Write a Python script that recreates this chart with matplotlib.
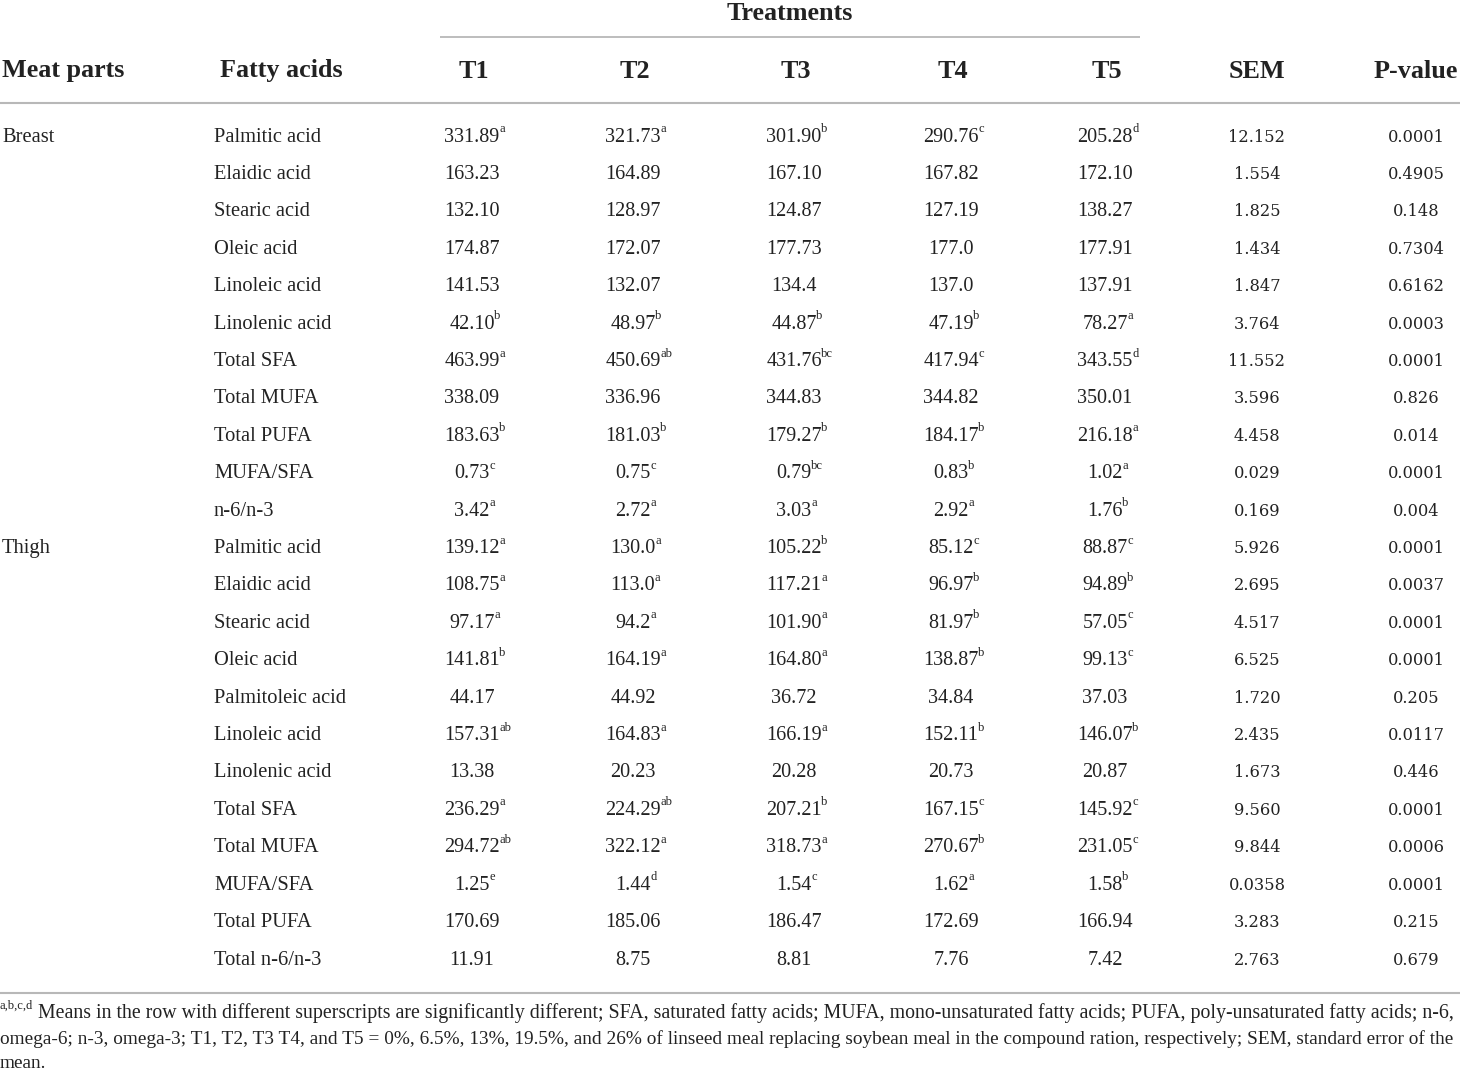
import re
import matplotlib
matplotlib.use("Agg")
import matplotlib.pyplot as plt

# table content
treatments = ["T1", "T2", "T3", "T4", "T5"]
meat_parts = ["Breast", "Thigh"]

breast_acids = ["Palmitic acid", "Elaidic acid", "Stearic acid", "Oleic acid",
                "Linoleic acid", "Linolenic acid", "Total SFA", "Total MUFA",
                "Total PUFA", "MUFA/SFA", "n-6/n-3"]
breast_t1 = ["331.89a", "163.23", "132.10", "174.87", "141.53", "42.10b",
             "463.99a", "338.09", "183.63b", "0.73c", "3.42a"]
breast_t2 = ["321.73a", "164.89", "128.97", "172.07", "132.07", "48.97b",
             "450.69ab", "336.96", "181.03b", "0.75c", "2.72a"]
breast_t3 = ["301.90b", "167.10", "124.87", "177.73", "134.4", "44.87b",
             "431.76bc", "344.83", "179.27b", "0.79bc", "3.03a"]
breast_t4 = ["290.76c", "167.82", "127.19", "177.0", "137.0", "47.19b",
             "417.94c", "344.82", "184.17b", "0.83b", "2.92a"]
breast_t5 = ["205.28d", "172.10", "138.27", "177.91", "137.91", "78.27a",
             "343.55d", "350.01", "216.18a", "1.02a", "1.76b"]
breast_sem = ["12.152", "1.554", "1.825", "1.434", "1.847", "3.764",
              "11.552", "3.596", "4.458", "0.029", "0.169"]
breast_p = ["0.0001", "0.4905", "0.148", "0.7304", "0.6162", "0.0003",
            "0.0001", "0.826", "0.014", "0.0001", "0.004"]

thigh_acids = ["Palmitic acid", "Elaidic acid", "Stearic acid", "Oleic acid",
               "Palmitoleic acid", "Linoleic acid", "Linolenic acid", "Total SFA",
               "Total MUFA", "MUFA/SFA", "Total PUFA", "Total n-6/n-3"]
thigh_t1 = ["139.12a", "108.75a", "97.17a", "141.81b", "44.17", "157.31ab",
            "13.38", "236.29a", "294.72ab", "1.25e", "170.69", "11.91"]
thigh_t2 = ["130.0a", "113.0a", "94.2a", "164.19a", "44.92", "164.83a",
            "20.23", "224.29ab", "322.12a", "1.44d", "185.06", "8.75"]
thigh_t3 = ["105.22b", "117.21a", "101.90a", "164.80a", "36.72", "166.19a",
            "20.28", "207.21b", "318.73a", "1.54c", "186.47", "8.81"]
thigh_t4 = ["85.12c", "96.97b", "81.97b", "138.87b", "34.84", "152.11b",
            "20.73", "167.15c", "270.67b", "1.62a", "172.69", "7.76"]
thigh_t5 = ["88.87c", "94.89b", "57.05c", "99.13c", "37.03", "146.07b",
            "20.87", "145.92c", "231.05c", "1.58b", "166.94", "7.42"]
thigh_sem = ["5.926", "2.695", "4.517", "6.525", "1.720", "2.435",
             "1.673", "9.560", "9.844", "0.0358", "3.283", "2.763"]
thigh_p = ["0.0001", "0.0037", "0.0001", "0.0001", "0.205", "0.0117",
           "0.446", "0.0001", "0.0006", "0.0001", "0.215", "0.679"]

footnote_lines = [
    "Means in the row with different superscripts are significantly different; SFA, saturated fatty acids; "
    "MUFA, mono-unsaturated fatty acids; PUFA, poly-unsaturated fatty acids; n-6,",
    "omega-6; n-3, omega-3; T1, T2, T3 T4, and T5 = 0%, 6.5%, 13%, 19.5%, and 26% of linseed meal "
    "replacing soybean meal in the compound ration, respectively; SEM, standard error of the",
    "mean.",
]

plt.rcParams["font.family"] = ["Liberation Serif", "DejaVu Serif"]

W, H = 1460, 1073
fig = plt.figure(figsize=(W / 100, H / 100), dpi=100)
ax = fig.add_axes([0, 0, 1, 1])
ax.set_xlim(0, W)
ax.set_ylim(H, 0)
ax.axis("off")

TXT = "#222222"
RULE = "#b8b8b8"
BODY = 14.8
NUM = 14.5
HEAD = 18.8
SIDE_FONT = ["DejaVu Serif"]

col_x = [472, 633, 794, 951, 1105]
sem_x, p_x = 1257, 1416
part_x, acid_x = 2, 214

# header
ax.text(790, 13, "Treatments", fontsize=HEAD, fontweight="bold", ha="center",
        va="center", color=TXT)
ax.plot([440, 1140], [37, 37], color=RULE, lw=1.3, solid_capstyle="butt")
hy = 71
ax.text(part_x, hy, "Meat parts", fontsize=HEAD, fontweight="bold", ha="left",
        va="center", color=TXT)
ax.text(281, hy, "Fatty acids", fontsize=HEAD, fontweight="bold", ha="center",
        va="center", color=TXT)
for x, t in zip([474, 635, 796, 953, 1107], treatments):
    ax.text(x, hy, t, fontsize=HEAD, fontweight="bold", ha="center", va="center", color=TXT)
ax.text(sem_x, hy, "SEM", fontsize=HEAD, fontweight="bold", ha="center", va="center", color=TXT)
ax.text(1416, hy, "P-value", fontsize=HEAD, fontweight="bold", ha="center", va="center", color=TXT)
ax.plot([0, W], [103, 103], color=RULE, lw=1.5, solid_capstyle="butt")


def cell(x, y, s):
    m = re.match(r"([\d.]+)([a-e]*)$", s)
    num, sup = m.group(1), m.group(2)
    t = ax.text(x, y, num, fontsize=NUM, ha="center", va="center", color=TXT)
    if sup:
        ax.annotate(sup, xy=(1.0, 0.6), xycoords=t, xytext=(-0.3, 0),
                    textcoords="offset points", ha="left", va="bottom",
                    fontsize=9, color=TXT)


y0, dy = 137, 37.41
row = 0
groups = [
    (meat_parts[0], breast_acids, [breast_t1, breast_t2, breast_t3, breast_t4, breast_t5],
     breast_sem, breast_p),
    (meat_parts[1], thigh_acids, [thigh_t1, thigh_t2, thigh_t3, thigh_t4, thigh_t5],
     thigh_sem, thigh_p),
]
for part, acids, tcols, sem, pval in groups:
    for i, acid in enumerate(acids):
        y = y0 + row * dy
        if i == 0:
            ax.text(part_x, y, part, fontsize=BODY, ha="left", va="center", color=TXT)
        ax.text(acid_x, y, acid, fontsize=BODY, ha="left", va="center", color=TXT)
        for x, col in zip(col_x, tcols):
            cell(x, y, col[i])
        ax.text(sem_x, y, sem[i], fontsize=11.7, family=SIDE_FONT, ha="center",
                va="center", color=TXT)
        ax.text(p_x, y, pval[i], fontsize=11.7, family=SIDE_FONT, ha="center",
                va="center", color=TXT)
        row += 1

ax.plot([0, W], [993, 993], color=RULE, lw=1.5, solid_capstyle="butt")

# footnote
ax.text(0, 1006, "a,b,c,d", fontsize=9, ha="left", va="center", color=TXT)
ax.text(38, 1013, footnote_lines[0], fontsize=14.3, ha="left", va="center", color=TXT)
ax.text(0, 1039, footnote_lines[1], fontsize=13.9, ha="left", va="center", color=TXT)
ax.text(0, 1064, footnote_lines[2], fontsize=13.9, ha="left", va="center", color=TXT)

fig.savefig("out.png", dpi=100)
